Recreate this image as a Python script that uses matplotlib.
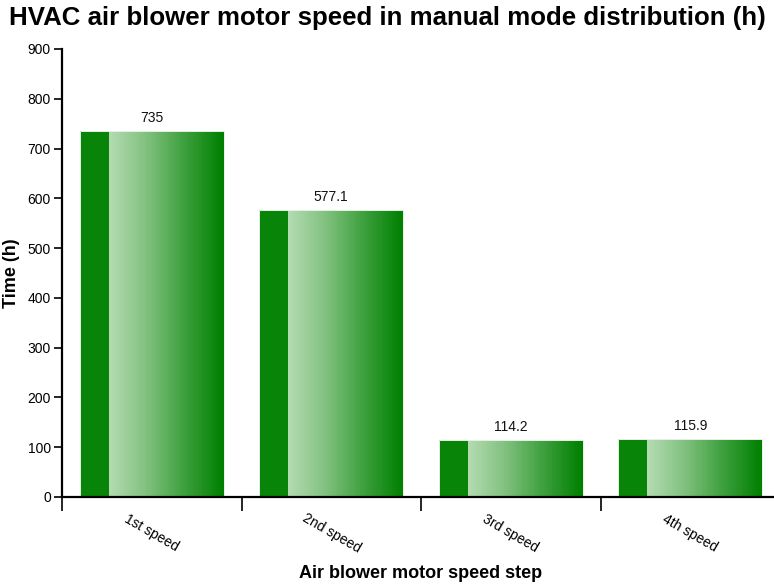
import numpy as np
import matplotlib
matplotlib.use("Agg")
import matplotlib.pyplot as plt
from matplotlib.colors import LinearSegmentedColormap

# Data
categories = ["1st speed", "2nd speed", "3rd speed", "4th speed"]
hours = [735, 577.1, 114.2, 115.9]
y_ticks = [0, 100, 200, 300, 400, 500, 600, 700, 800, 900]

plt.rcParams["font.family"] = ["Liberation Sans", "DejaVu Sans"]

fig = plt.figure(figsize=(7.74, 5.88), dpi=100)
ax = fig.add_axes([62 / 774, 91 / 588, 718 / 774, 448 / 588])

bar_w = 0.8
solid_frac = 0.2
n_slices = 80
grad = LinearSegmentedColormap.from_list("g", ["#b3dbb1", "#7fc07d", "#3c9f3c", "#008000"])

for i, v in enumerate(hours):
    x0 = i + 0.5 - bar_w / 2
    x1 = i + 0.5 + bar_w / 2
    xs = x0 + bar_w * solid_frac
    # solid dark face on the left
    ax.bar(x0, v, width=xs - x0, align="edge", color="#088508",
           linewidth=0, zorder=2)
    # shaded face built from narrow slices
    edges = np.linspace(xs, x1, n_slices + 1)
    cols = grad(np.linspace(0, 1, n_slices))
    ax.bar(edges[:-1], [v] * n_slices, width=np.diff(edges) * 1.02, align="edge",
           color=cols, linewidth=0, zorder=2)
    ax.bar(x0, v, width=x1 - x0, align="edge", facecolor="none",
           edgecolor="#e6f2e6", linewidth=0.7, zorder=2.1)
    ax.text(i + 0.5, v + 12, f"{v:g}", ha="center", va="bottom", fontsize=10,
            color="#111111")

ax.set_xlim(0, len(categories))
ax.set_ylim(0, 900)
ax.set_yticks(y_ticks)
ax.set_yticklabels([str(t) for t in y_ticks], fontsize=10)
ax.set_xticks(np.arange(len(categories) + 1))
ax.set_xticklabels([])
ax.tick_params(axis="x", length=10, width=1.2, direction="out")
ax.tick_params(axis="y", length=6, width=1.2, direction="out", pad=2)

for i, c in enumerate(categories):
    ax.text(i + 0.5, -73, c, rotation=-30, ha="center", va="center",
            rotation_mode="anchor", fontsize=10)

for s in ["top", "right"]:
    ax.spines[s].set_visible(False)
for s in ["left", "bottom"]:
    ax.spines[s].set_linewidth(1.6)
    ax.spines[s].set_zorder(5)

fig.text(387 / 774, 1 - 18 / 588, "HVAC air blower motor speed in manual mode distribution (h)",
         ha="center", va="center", fontsize=18.6, fontweight="bold")
fig.text(12 / 774, 1 - 273 / 588, "Time (h)", rotation=90, ha="center", va="center",
         fontsize=13, fontweight="bold")
fig.text(421 / 774, 1 - 574 / 588, "Air blower motor speed step", ha="center", va="center",
         fontsize=13, fontweight="bold")

fig.savefig("out.png", dpi=100)
